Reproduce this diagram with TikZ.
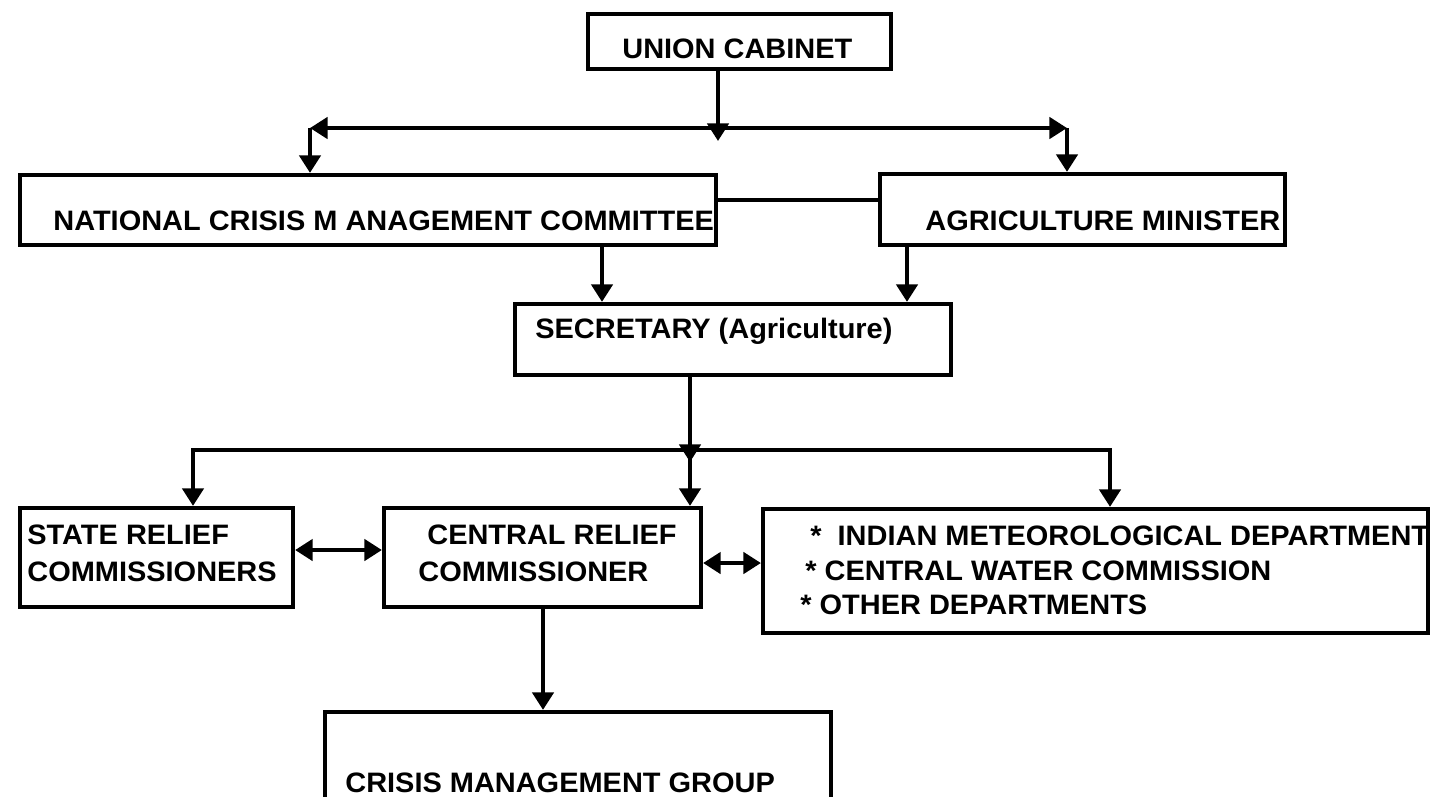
\documentclass[tikz,border=0pt]{standalone}
\usepackage{fontspec}
\setmainfont[FakeStretch=1.03]{Liberation Sans}
\usetikzlibrary{arrows.meta}

\tikzset{
  box/.style={draw, line width=2.4pt, inner sep=0pt},
  lbl/.style={inner sep=0pt, align=left, font=\fontsize{16}{21}\selectfont\bfseries},
  arr/.style={line width=2.4pt, -{Triangle[width=12pt,length=10pt]}},
  dbl/.style={line width=2.4pt, {Triangle[width=12pt,length=10pt]}-{Triangle[width=12pt,length=10pt]}},
  plainline/.style={line width=2.4pt}
}

\begin{document}
\begin{tikzpicture}[x=0.02cm, y=-0.02cm]
\useasboundingbox (0,0) rectangle (1432,796);

% boxes
\node[box, minimum width=6.06cm, minimum height=1.10cm] (cab) at (739.5,41.5) {};
\node[box, minimum width=13.92cm, minimum height=1.40cm] (ncmc) at (368,210) {};
\node[box, minimum width=8.10cm, minimum height=1.42cm] (am) at (1082.5,209.5) {};
\node[box, minimum width=8.72cm, minimum height=1.42cm] (sec) at (733,339.5) {};
\node[box, minimum width=5.46cm, minimum height=1.98cm] (src) at (156.5,557.5) {};
\node[box, minimum width=6.34cm, minimum height=1.98cm] (crc) at (542.5,557.5) {};
\node[box, minimum width=13.30cm, minimum height=2.48cm] (imd) at (1095.5,571) {};
\node[box, minimum width=10.12cm, minimum height=1.96cm] (cmg) at (578,761) {};

% texts
\node[lbl, anchor=base west] (cabt) at (622,58) {UNION CABINET};
\node[lbl, anchor=base west] (ncmct) at (53,230) {NATIONAL CRISIS M ANAGEMENT COMMITTEE};
\node[lbl, anchor=base west] (amt) at (925,230) {AGRICULTURE MINISTER};
\node[lbl, anchor=base west] (sect) at (535,338) {SECRETARY (Agriculture)};
\node[lbl, anchor=north west] (srct) at (27,525) {STATE RELIEF\\COMMISSIONERS};
\node[lbl, anchor=north west] (crct) at (418,525) {\hspace*{0.18cm}CENTRAL RELIEF\\COMMISSIONER};
\node[lbl, anchor=north west, font=\fontsize{16}{19.4}\selectfont\bfseries] (imdt) at (800,526)
  {\hspace*{0.2cm}*~~INDIAN METEOROLOGICAL DEPARTMENT\\\hspace*{0.1cm}* CENTRAL WATER COMMISSION\\* OTHER DEPARTMENTS};
\node[lbl, anchor=base west] (cmgt) at (345,792) {CRISIS MANAGEMENT GROUP};

% junctions
\coordinate (hub1) at (718,128);
\coordinate (lft1) at (310,128);
\coordinate (rgt1) at (1067,128);
\coordinate (mid) at (800,200);
\coordinate (d1) at (602,280);
\coordinate (d2) at (907,280);
\coordinate (hub2) at (690,450);
\coordinate (lft2) at (193,450);
\coordinate (rgt2) at (1110,450);
\coordinate (d3) at (543,660);

% connectors
\draw[arr] (cab.south -| hub1) -- (hub1) -- ++(0,13);
\draw[arr] (hub1) -- (lft1);
\draw[arr] (lft1) -- (ncmc.north -| lft1);
\draw[arr] (hub1) -- (rgt1);
\draw[arr] (rgt1) -- (am.north -| rgt1);
\draw[plainline] (ncmc.east |- mid) -- (am.west |- mid);
\draw[arr] (ncmc.south -| d1) -- (sec.north -| d1);
\draw[arr] (am.south -| d2) -- (sec.north -| d2);
\draw[arr] (sec.south -| hub2) -- (hub2) -- ++(0,12);
\draw[arr] (hub2) -- (crc.north -| hub2);
\draw[arr] (hub2) -- (lft2) -- (src.north -| lft2);
\draw[arr] (hub2) -- (rgt2) -- (imd.north -| rgt2);
\draw[dbl] (src.east |- 0,550) -- (crc.west |- 0,550);
\draw[dbl] (crc.east |- 0,563) -- (imd.west |- 0,563);
\draw[arr] (crc.south -| d3) -- (cmg.north -| d3);
\end{tikzpicture}
\end{document}
